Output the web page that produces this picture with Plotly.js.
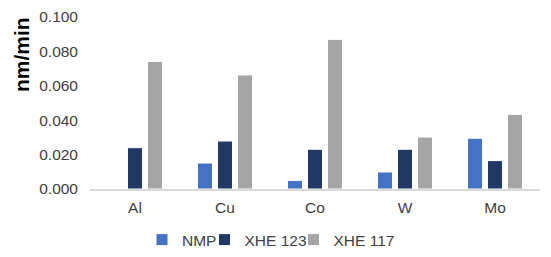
<!DOCTYPE html>
<html>
<head>
<meta charset="utf-8">
<script src="https://cdn.plot.ly/plotly-3.0.1.min.js"></script>
<style>html,body{margin:0;padding:0;background:#fff;}#chart{width:551px;height:257px;}</style>
</head>
<body>
<div id="chart"></div>
<script>
const categories = ["Al", "Cu", "Co", "W", "Mo"];
const nmp = [0, 0.0151, 0.0050, 0.0099, 0.0295];
const xhe123 = [0.0240, 0.0279, 0.0231, 0.0231, 0.0165];
const xhe117 = [0.0742, 0.0663, 0.0870, 0.0302, 0.0434];
const seriesNames = ["NMP", "XHE 123", "XHE 117"];
const yTitle = "nm/min";

const colors = ["#4472C4", "#203864", "#A5A5A5"];
const legendWidths = [17.5, 44, 63];
const values = [nmp, xhe123, xhe117];
const traces = values.map((v, i) => ({
  type: "bar",
  name: seriesNames[i],
  x: categories,
  y: v,
  legendwidth: legendWidths[i],
  marker: {color: colors[i], line: {color: "#ffffff", width: 1}},
  hoverinfo: "none"
}));

const font = {family: "Liberation Sans, Arial, sans-serif", size: 15.5, color: "#404040"};
const layout = {
  width: 551, height: 257,
  margin: {l: 90, r: 11, t: 17, b: 68},
  paper_bgcolor: "#ffffff", plot_bgcolor: "#ffffff",
  font: font,
  barmode: "group",
  bargap: 0.333,
  bargroupgap: 0.25,
  showlegend: true,
  legend: {
    orientation: "h", xref: "container", yref: "container",
    x: 142 / 551, xanchor: "left", y: 0.066, yanchor: "middle",
    font: font, traceorder: "normal"
  },
  xaxis: {
    showgrid: false, showline: true, linecolor: "#D9D9D9", linewidth: 1.5,
    ticks: "", tickfont: font, zeroline: false, ticklabelstandoff: 4
  },
  yaxis: {
    range: [0, 0.1], dtick: 0.02, tickformat: ".3f",
    showgrid: false, showline: false, zeroline: false, ticks: "",
    tickfont: font, ticklabelstandoff: 11
  },
  annotations: [{
    text: yTitle, textangle: -90, showarrow: false,
    xref: "paper", yref: "paper",
    x: (22 - 90) / 450, y: (189 - 55) / 172,
    xanchor: "center", yanchor: "middle",
    font: {family: "Liberation Sans, Arial, sans-serif", size: 21, color: "#000000", weight: "bold"}
  }]
};
Plotly.newPlot("chart", traces, layout, {staticPlot: true, displayModeBar: false});
</script>
</body>
</html>
